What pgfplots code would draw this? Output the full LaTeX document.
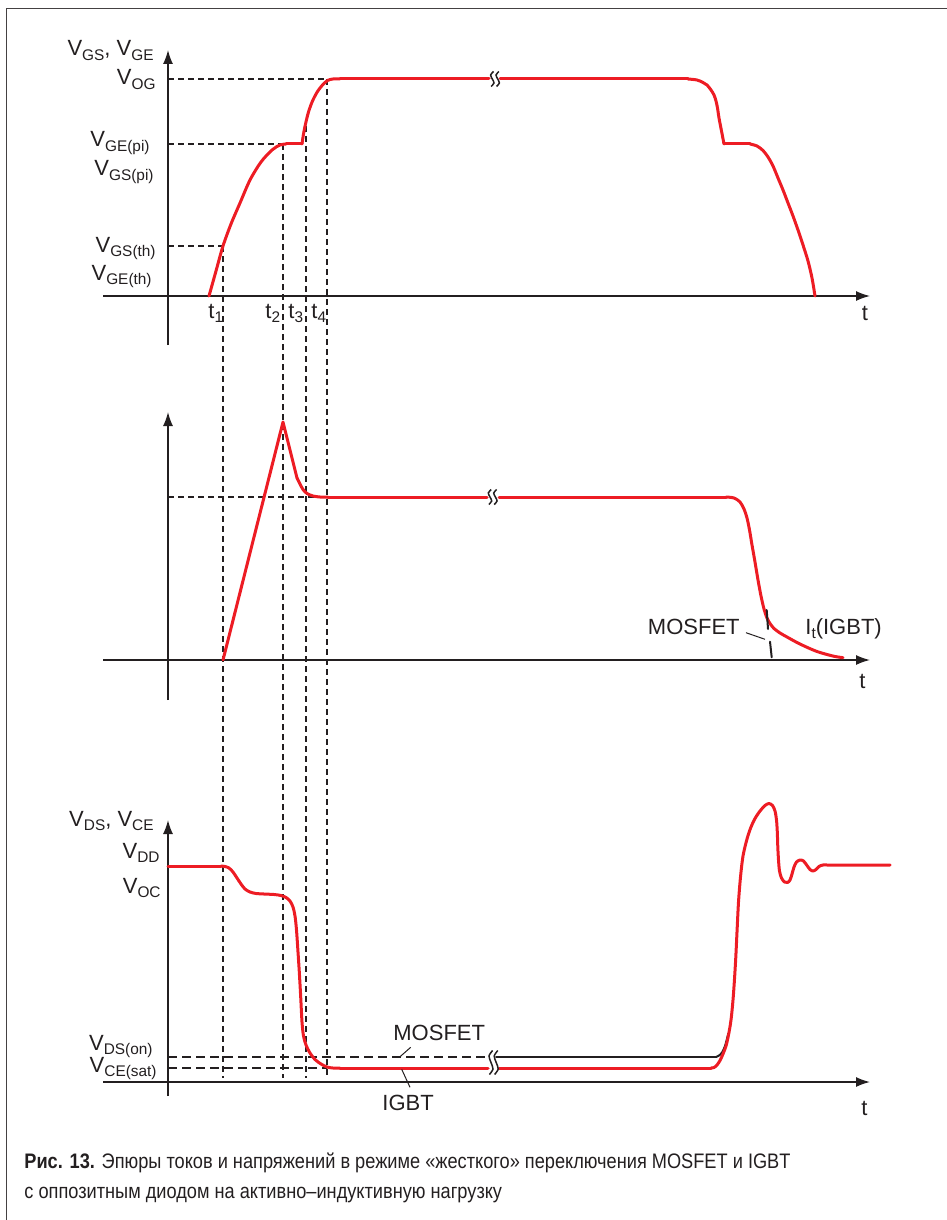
\documentclass[border=0pt]{standalone}
\usepackage{pgfplots}
\pgfplotsset{compat=1.18}
\usepackage{fontspec}
\setmainfont{Liberation Sans}
\usepackage{graphicx}
\usetikzlibrary{arrows.meta}
\definecolor{myred}{RGB}{237,28,36}
\definecolor{ink}{RGB}{35,31,32}
\newcommand{\sub}[1]{\raisebox{-2.3pt}{\fontsize{7.7pt}{8pt}\selectfont #1}}
\newcommand{\capfont}{\fontsize{10.5pt}{12pt}\selectfont}
\newcommand{\capA}{\textbf{Рис. 13.} Эпюры токов и напряжений в режиме «жесткого» переключения MOSFET и IGBT}
\newcommand{\capB}{с оппозитным диодом на активно–индуктивную нагрузку}
\newlength\capw
\tikzset{lbl/.style={font=\fontsize{11pt}{13pt}\selectfont, text=ink, inner sep=0pt}}
\pgfplotsset{
  panel/.style={x=0.5pt, y=0.5pt, anchor=origin, axis lines=middle,
    xtick=\empty, ytick=\empty, clip=false, xmin=-65, xmax=702,
    axis line style={line width=0.75pt, draw=ink},
    every inner x axis line/.append style={-{Latex[length=7pt,width=5pt]}},
    every inner y axis line/.append style={-{Latex[length=7pt,width=5pt]}}},
  rd/.style={draw=myred, line width=1.5pt, no markers, line join=round, line cap=round},
  dsh/.style={draw=ink, line width=0.6pt, dash pattern=on 3pt off 2pt, no markers},
  dshthick/.style={draw=ink, line width=1pt, dash pattern=on 4.5pt off 2.5pt, no markers},
  blk/.style={draw=ink, line width=1pt, no markers, line cap=round},
  leader/.style={draw=ink, line width=0.5pt, no markers},
  brk/.style={draw=ink, line width=0.75pt, no markers, smooth}
}
\begin{document}
\settowidth\capw{\capfont\capA}%
\pgfmathsetmacro\capfac{383/\capw}%
\begin{tikzpicture}
\useasboundingbox (0,0) rectangle (473.5pt,-610pt);
\draw[line width=0.5pt, ink!85] (3pt,-610pt) -- (3pt,-4.2pt) -- (473.5pt,-4.2pt);

% ---------------- top panel -----------------
\begin{axis}[panel, at={(84pt,-148pt)}, ymin=-49, ymax=246]
\addplot[dsh] coordinates {(0,217) (159,217)};
\addplot[dsh] coordinates {(0,152) (115,152)};
\addplot[dsh] coordinates {(0,50) (55,50)};
\addplot[dsh] coordinates {(55,50) (55,-782)};
\addplot[dsh] coordinates {(115,152) (115,-782)};
\addplot[dsh] coordinates {(138,170) (138,-782)};
\addplot[dsh] coordinates {(159,217) (159,-782)};
\addplot[rd, smooth] coordinates {(41,0) (48,25) (55,50) (63,72) (72,93) (82,116) (93,134) (104,146) (112,151) (118,152)};
\addplot[rd] coordinates {(118,152) (134,152)};
\addplot[rd, smooth] coordinates {(134,152) (135.5,162) (137.5,172) (140.5,184) (144.5,195) (149.5,204.5) (154.5,211) (159.5,215.5) (165,217) (172,217)};
\addplot[rd] coordinates {(172,217) (321,217)};
\addplot[rd] coordinates {(332,217) (520,217)};
\addplot[rd, smooth] coordinates {(520,217) (529,216) (535,213.5) (539,211) (543,206) (546,201) (548,195) (549.5,188) (551,178) (553.5,165) (556,152)};
\addplot[rd] coordinates {(556,152) (582,152)};
\addplot[rd, smooth] coordinates {(582,152) (589,150) (595,145.5) (600,139) (605,130) (610,118) (615,106) (620,93) (625,80) (630,66) (635,51) (640,35) (644,18) (647,0)};
\addplot[brk] coordinates {(325.5,224.5) (322.6,221) (324.3,217) (326,213) (323.1,209.5)};
\addplot[brk] coordinates {(330.9,224.5) (328,221) (329.7,217) (331.4,213) (328.5,209.5)};
\node[lbl, anchor=base east] at (axis cs:-14,240) {V\sub{GS}, V\sub{GE}};
\node[lbl, anchor=base east] at (axis cs:-12,211) {V\sub{OG}};
\node[lbl, anchor=base east] at (axis cs:-18,149) {V\sub{GE(pi)}};
\node[lbl, anchor=base east] at (axis cs:-14,120) {V\sub{GS(pi)}};
\node[lbl, anchor=base east] at (axis cs:-12,44) {V\sub{GS(th)}};
\node[lbl, anchor=base east] at (axis cs:-16,16) {V\sub{GE(th)}};
\node[lbl, anchor=base west] at (axis cs:40,-22) {t\sub{1}};
\node[lbl, anchor=base west] at (axis cs:97,-22) {t\sub{2}};
\node[lbl, anchor=base west] at (axis cs:120,-22) {t\sub{3}};
\node[lbl, anchor=base west] at (axis cs:143,-22) {t\sub{4}};
\node[lbl, anchor=base] at (axis cs:697,-24) {t};
\end{axis}

% ---------------- middle panel -----------------
\begin{axis}[panel, at={(84pt,-330pt)}, ymin=-40, ymax=248]
\addplot[dsh] coordinates {(0,163) (159,163)};
\addplot[rd] coordinates {(55,0) (115,238) (129,182)};
\addplot[rd, smooth] coordinates {(129,182) (132,176) (135,170.5) (139,166.5) (145,164) (152,163) (160,163)};
\addplot[rd] coordinates {(160,163) (319,163)};
\addplot[rd] coordinates {(331,163) (558,163)};
\addplot[rd, smooth] coordinates {(558,163) (566,162) (572,158) (576,151) (579,142) (581.5,130) (584,115) (587,98) (590,80) (593,64) (596,51) (599,42) (602,36.5) (606,31.5) (612,27) (619,23) (629,17.5) (639,12.7) (649,8.5) (659,5.5) (667,3.5) (675,2.3)};
\addplot[blk] coordinates {(598.7,50) (600,31)};
\addplot[blk] coordinates {(602,18.3) (603.7,2.7)};
\addplot[leader] coordinates {(578,27.3) (597,20.7)};
\addplot[brk] coordinates {(323.2,170.5) (320.3,167) (322,163) (323.7,159) (320.8,155.5)};
\addplot[brk] coordinates {(328.6,170.5) (325.7,167) (327.4,163) (329.1,159) (326.2,155.5)};
\node[lbl, anchor=base east] at (axis cs:572,26) {MOSFET};
\node[lbl, anchor=base west] at (axis cs:637,26) {I\sub{t}(IGBT)};
\node[lbl, anchor=base] at (axis cs:694.5,-28) {t};
\end{axis}

% ---------------- bottom panel -----------------
\begin{axis}[panel, at={(84pt,-541pt)}, ymin=-14, ymax=262]
\addplot[dshthick] coordinates {(0,25) (321,25)};
\addplot[dshthick] coordinates {(0,14) (159,14)};
\addplot[blk] coordinates {(328,25) (548,25)};
\addplot[blk, smooth] coordinates {(548,25) (551,26.5) (554,29.5) (557,36) (560.3,48.5)};
\addplot[rd] coordinates {(0,216) (53,216)};
\addplot[rd, smooth] coordinates {(53,216) (57,215.5) (61,214) (65,210) (69,204) (73,198) (77,193) (82,190) (88,188.5) (96,188) (106,187.5) (113,186.5) (118,184.5) (122,181) (125,175) (127,166) (128.5,152) (130,130) (131.3,110) (132.7,85) (134,60) (135.5,46) (138,37) (142,29) (147,22.5) (153,18) (159,15) (165,14) (172,14)};
\addplot[rd] coordinates {(172,14) (320,14)};
\addplot[rd] coordinates {(331,14) (543,14)};
\addplot[rd, smooth] coordinates {(543,14) (546,14.5) (549,17) (552,21.5) (555,28) (558,36) (560.5,47) (563,62) (565,82) (566.5,103) (567.8,125) (569,150) (570.5,180) (572.5,205) (575,226) (579,243) (583,255) (587,263.5) (592,271) (597,276.5) (601,278.5) (604.5,276.5) (607,271) (608.5,262) (609.3,250) (609.8,235) (610.5,222) (611.5,211) (613.5,204) (616.5,200) (619.5,199.5) (622,202) (624,208) (626,215) (628.5,220) (632,222) (635.5,221) (639,216.5) (642,212.5) (645,211) (648,212.5) (651,215.5) (655,217) (662,217) (722,217)};
\addplot[brk] coordinates {(324.6,31.5) (321,26) (323,19.5) (325,13) (321.4,7.5)};
\addplot[brk] coordinates {(329.8,31.5) (326.2,26) (328.2,19.5) (330.2,13) (326.6,7.5)};
\addplot[leader] coordinates {(242.7,34.7) (232,25.3)};
\addplot[leader] coordinates {(233.7,12.7) (242,-5.3)};
\node[lbl, anchor=base east] at (axis cs:-14,256) {V\sub{DS}, V\sub{CE}};
\node[lbl, anchor=base east] at (axis cs:-8,224) {V\sub{DD}};
\node[lbl, anchor=base east] at (axis cs:-7,189) {V\sub{OC}};
\node[lbl, anchor=base east] at (axis cs:-15,32) {V\sub{DS(on)}};
\node[lbl, anchor=base east] at (axis cs:-11,10) {V\sub{CE(sat)}};
\node[lbl, anchor=base west] at (axis cs:225,42) {MOSFET};
\node[lbl, anchor=base west] at (axis cs:214,-28) {IGBT};
\node[lbl, anchor=base] at (axis cs:696.5,-33) {t};
\end{axis}

% caption
\node[anchor=base west, inner sep=0pt, text=ink] at (12pt,-584pt) {\capfont\resizebox{383pt}{\height}{\capA}};
\node[anchor=base west, inner sep=0pt, text=ink] at (12pt,-599pt) {\capfont\scalebox{\capfac}[1]{\capB}};
\end{tikzpicture}
\end{document}
